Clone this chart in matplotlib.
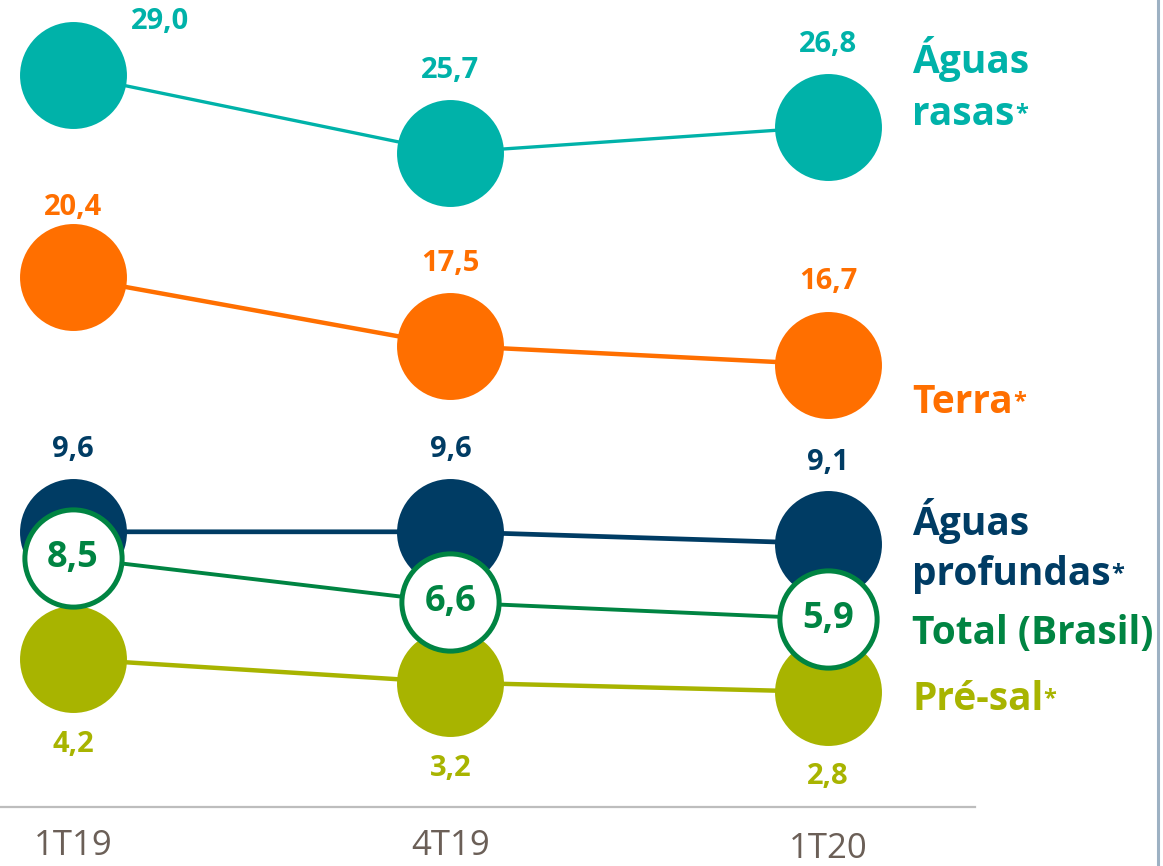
import matplotlib
matplotlib.use("Agg")
import matplotlib.pyplot as plt

# ---- data ----
quarters = ["1T19", "4T19", "1T20"]
aguas_rasas = [29.0, 25.7, 26.8]
terra = [20.4, 17.5, 16.7]
aguas_profundas = [9.6, 9.6, 9.1]
pre_sal = [4.2, 3.2, 2.8]
total_brasil = [8.5, 6.6, 5.9]
series_names = ["Águas\nrasas", "Terra", "Águas\nprofundas", "Pré-sal", "Total (Brasil)"]
series_stars = [True, True, True, True, False]

# ---- style ----
W, H = 1163, 866
FONT = "Open Sans"
plt.rcParams["font.family"] = [FONT, "DejaVu Sans"]
C_TEAL = "#00B2A9"
C_ORANGE = "#FF6F00"
C_NAVY = "#003C64"
C_GREEN = "#008442"
C_OLIVE = "#A8B400"
C_TICK = "#6B5F57"

fig = plt.figure(figsize=(W / 100, H / 100), dpi=100)
ax = fig.add_axes([0, 0, 1, 1])
ax.set_xlim(-0.193, 2.887)
ax.set_ylim(-4.59, 32.18)
ax.axis("off")

x = list(range(len(quarters)))
PX = 0.72  # points per pixel at 100 dpi


def fmt(v):
    return f"{v:.1f}".replace(".", ",")


filled = [
    (aguas_rasas, C_TEAL, 2.4, [(87, -53), (0, -82), (0, -82)]),
    (terra, C_ORANGE, 3.2, [(0, -70), (0, -82), (0, -83)]),
    (aguas_profundas, C_NAVY, 3.4, [(0, -82), (0, -82), (0, -81)]),
    (pre_sal, C_OLIVE, 3.2, [(0, 86), (0, 86), (0, 85)]),
]
z = 2
for vals, col, lw, offs in filled:
    ax.plot(x, vals, color=col, lw=lw, marker="o", markersize=77,
            markerfacecolor=col, markeredgewidth=0, zorder=z, clip_on=False)
    for xi, v, (dx, dy) in zip(x, vals, offs):
        ax.annotate(fmt(v), (xi, v), xytext=(dx * PX, -dy * PX),
                    textcoords="offset points", ha="center", va="center",
                    fontsize=21, fontweight="bold", color=col, zorder=10)
    z += 1

ax.plot(x, total_brasil, color=C_GREEN, lw=2.8, marker="o", markersize=70,
        markerfacecolor="white", markeredgecolor=C_GREEN, markeredgewidth=3.6,
        zorder=8, clip_on=False)
for xi, v in zip(x, total_brasil):
    ax.text(xi, v, fmt(v), ha="center", va="center", fontsize=26,
            fontweight="bold", color=C_GREEN, zorder=11)

# baseline axis line and right border line
ax.axhline(29.0 - (807 - 75) / 23.55, xmin=0, xmax=975 / W, color="#BDBDBD", lw=1.6)
ax.axvline(-0.193 + 3.08 * 1158 / W, color="#9DB1C3", lw=2.2)

# category labels
tick_y = [846, 846, 849]
for xi, q, ty in zip(x, quarters, tick_y):
    ax.text(xi, 1 - ty / H, q, transform=ax.get_xaxis_transform(),
            ha="center", va="center", fontsize=25, color=C_TICK)

# right-hand series labels (baselines in pixels)
label_cols = [C_TEAL, C_ORANGE, C_NAVY, C_OLIVE, C_GREEN]
label_base = [[73, 125], [413], [535, 585], [710], [644]]
fig.canvas.draw()
renderer = fig.canvas.get_renderer()
for name, col, bases, star in zip(series_names, label_cols, label_base, series_stars):
    last = None
    for line, b in zip(name.split("\n"), bases):
        last = fig.text(912 / W, 1 - b / H, line, ha="left", va="baseline",
                        fontsize=28, fontweight="bold", color=col)
    if star:
        bb = last.get_window_extent(renderer=renderer)
        fig.text((bb.x1 + 0.5) / W, 1 - (bases[-1] - 5) / H, "*", ha="left",
                 va="baseline", fontsize=17, fontweight="bold", color=col)

fig.savefig("out.png", dpi=100)
